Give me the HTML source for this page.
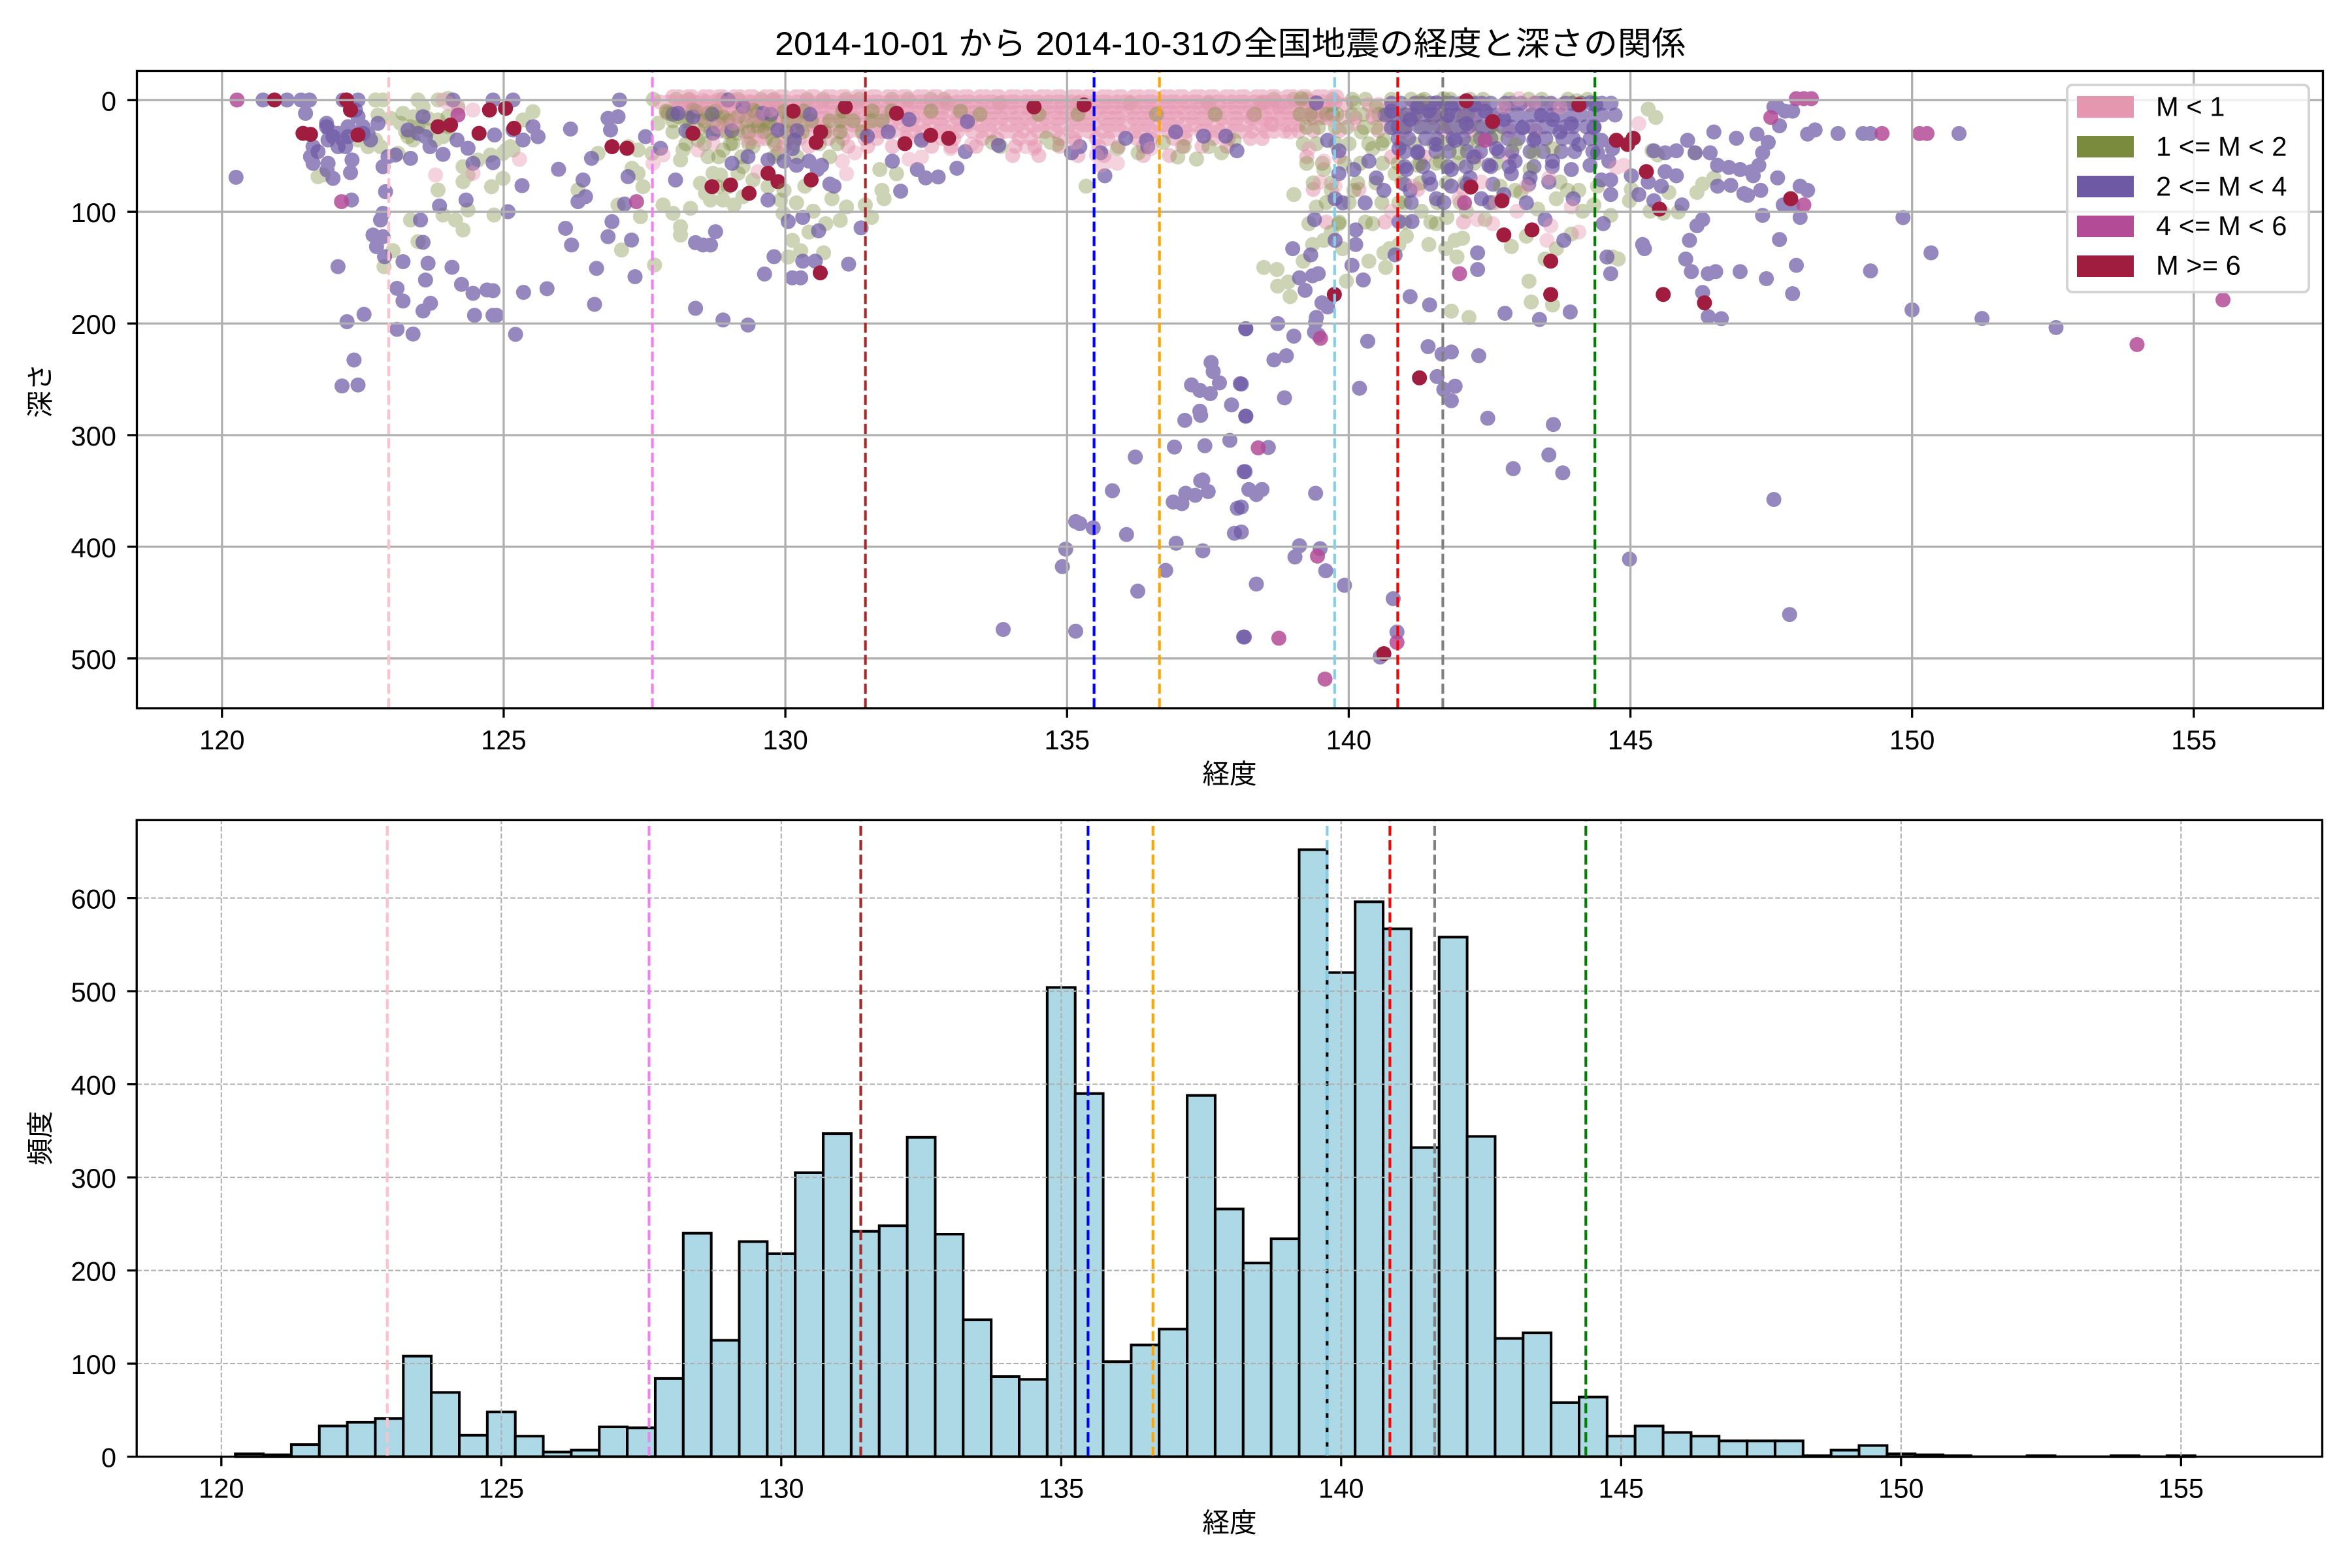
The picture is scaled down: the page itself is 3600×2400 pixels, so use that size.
<!DOCTYPE html>
<html><head><meta charset="utf-8"><style>
html,body{margin:0;padding:0;background:#fff}
svg{display:block}
text{font-family:"Liberation Sans","Noto Sans CJK JP",sans-serif;fill:#000}
.t path{fill:none;stroke-width:23px;stroke-linecap:round;vector-effect:non-scaling-stroke}
.band path{fill:none;stroke-width:23px;stroke-linecap:round}
.pk{stroke:#e597b0;stroke-opacity:.42}
.gr{stroke:#7b8b3d;stroke-opacity:.38}
.pu{stroke:#6e59a5;stroke-opacity:.72}
.mg{stroke:#b44b97;stroke-opacity:.85}
.cr{stroke:#a11d3f;stroke-opacity:1}
.band .pk{stroke-opacity:.55}
.band .gr{stroke-opacity:.4}
.band .pu{stroke-opacity:.68}
</style></head><body>
<svg xmlns="http://www.w3.org/2000/svg" width="3600" height="2400">
<rect x="0" y="0" width="3600" height="2400" fill="#fff"/>
<text x="1186" y="84" font-size="50" textLength="1394" lengthAdjust="spacingAndGlyphs">2014-10-01 から 2014-10-31の全国地震の経度と深さの関係</text>

<g class="band">
<path class="gr" d="M1000 152H1450" stroke-dasharray="0 35 0 20 0 50 0 25"/>
<path class="gr" d="M1950 152H2440" stroke-dasharray="0 30 0 20 0 40"/>
<path class="gr" d="M1450 158H1950" stroke-dasharray="0 80 0 120"/>
<path class="pk" d="M1030 148H2060" stroke-dasharray="0 9 0 14 0 6 0 18"/>
<path class="pk" d="M1010 156H2050" stroke-dasharray="0 12 0 7 0 16"/>
<path class="pk" d="M1040 164H2045" stroke-dasharray="0 10 0 15 0 8 0 20"/>
<path class="pk" d="M1020 172H2040" stroke-dasharray="0 8 0 13 0 11"/>
<path class="pk" d="M1060 181H2020" stroke-dasharray="0 14 0 9 0 22"/>
<path class="pk" d="M1080 191H2000" stroke-dasharray="0 11 0 19 0 9"/>
<path class="pk" d="M1100 201H1990" stroke-dasharray="0 16 0 22 0 12"/>
<path class="pk" d="M1150 212H1960" stroke-dasharray="0 22 0 34 0 18 0 44"/>
<path class="pk" d="M1200 224H1900" stroke-dasharray="0 38 0 60 0 30"/>
<path class="pk" d="M1550 238H1800" stroke-dasharray="0 40 0 60"/>
<path class="pk" d="M2040 160H2440" stroke-dasharray="0 20 0 35 0 15"/>
<path class="pk" d="M2010 180H2300" stroke-dasharray="0 18 0 28"/>
<path class="pk" d="M2010 200H2400" stroke-dasharray="0 40 0 60"/>
<path class="pk" d="M2000 240H2350" stroke-dasharray="0 50 0 80"/>
<path class="pk" d="M2010 290H2300" stroke-dasharray="0 70 0 90"/>
<path class="pk" d="M2030 340H2250" stroke-dasharray="0 90 0 120"/>
<path class="gr" d="M1020 170H1500" stroke-dasharray="0 45 0 30 0 60"/>
<path class="gr" d="M1500 175H2080" stroke-dasharray="0 90 0 60 0 120"/>
<path class="gr" d="M1030 185H1360" stroke-dasharray="0 20 0 28 0 16"/>
<path class="gr" d="M1030 202H1330" stroke-dasharray="0 24 0 34"/>
<path class="gr" d="M1050 220H1320" stroke-dasharray="0 28 0 40"/>
<path class="gr" d="M1100 240H1300" stroke-dasharray="0 35 0 50"/>
<path class="gr" d="M1990 175H2250" stroke-dasharray="0 16 0 24"/>
<path class="gr" d="M2000 195H2300" stroke-dasharray="0 18 0 26"/>
<path class="gr" d="M1995 220H2250" stroke-dasharray="0 20 0 30"/>
<path class="gr" d="M2000 250H2300" stroke-dasharray="0 24 0 34"/>
<path class="gr" d="M2010 280H2250" stroke-dasharray="0 28 0 40"/>
<path class="gr" d="M2030 310H2300" stroke-dasharray="0 35 0 50"/>
<path class="gr" d="M2050 340H2200" stroke-dasharray="0 40 0 60"/>
<path class="pu" d="M2130 158H2470" stroke-dasharray="0 14 0 22 0 10"/>
<path class="pu" d="M2120 176H2480" stroke-dasharray="0 12 0 20"/>
<path class="pu" d="M2140 194H2460" stroke-dasharray="0 12 0 20"/>
<path class="pu" d="M2140 212H2450" stroke-dasharray="0 16 0 26"/>
<path class="pu" d="M2150 232H2440" stroke-dasharray="0 20 0 28"/>
<path class="pu" d="M2150 255H2400" stroke-dasharray="0 28 0 38"/>
<path class="pu" d="M2150 282H2350" stroke-dasharray="0 40 0 55"/>
<path class="pu" d="M2160 310H2320" stroke-dasharray="0 50 0 70"/>
<path class="pu" d="M1030 175H1300" stroke-dasharray="0 60 0 90"/>
<path class="pu" d="M1050 200H1290" stroke-dasharray="0 70 0 100"/>
</g>

<g class="t" transform="translate(150 0) scale(0.76531 0.5102)">
<path class="gr" vector-effect="non-scaling-stroke" d="M572 800h.1M590 752h.1M565 440h.1M600 460h.1M625 380h.1M640 300h.1M650 320h.1M680 300h.1M700 295h.1M720 320h.1M730 500h.1M730 545h.1M740 525h.1M760 480h.1M785 465h.1M810 535h.1M787 560h.1M816 450h.1M830 450h.1M850 360h.1M870 335h.1M680 570h.1M690 645h.1M715 660h.1M730 690h.1M740 630h.1M792 645h.1M625 660h.1M640 725h.1M960 570h.1M1040 615h.1M1047 750h.1M1085 650h.1M1080 520h.1M1068 505h.1M1090 560h.1M1113 795h.1M1108 460h.1M1130 615h.1M1150 640h.1M1165 680h.1M1165 705h.1M1185 625h.1M1165 480h.1M1170 450h.1M1205 550h.1M1215 580h.1M1225 600h.1M1245 525h.1M1272 615h.1M1290 500h.1M1310 540h.1M1340 560h.1M1060 440h.1M1080 450h.1M1120 370h.1M1140 340h.1M1160 350h.1M1180 355h.1M555 300h.1M570 300h.1M560 345h.1M585 355h.1M605 370h.1M615 395h.1M630 420h.1M645 380h.1M700 350h.1M700 380h.1M660 390h.1M555 420h.1M540 440h.1M520 420h.1M440 530h.1M450 525h.1M810 460h.1M825 440h.1M1000 460h.1M1200 420h.1M1220 470h.1M1250 450h.1M1280 400h.1M1320 380h.1M1350 420h.1M1230 520h.1M1260 560h.1M1290 590h.1M1250 600h.1M1365 600h.1M1370 640h.1"/>
<path class="gr" vector-effect="non-scaling-stroke" d="M610 340h.1M630 350h.1M660 355h.1M680 360h.1M690 410h.1M620 410h.1M675 420h.1M1190 330h.1M1220 340h.1M1250 350h.1M1280 350h.1M1310 330h.1M1340 370h.1M1200 390h.1M1270 430h.1M1310 440h.1M1360 460h.1M640 380h.1M700 400h.1M1240 560h.1M1280 520h.1"/>
<path class="pu" vector-effect="non-scaling-stroke" d="M276 532h.1M330 300h.1M378 300h.1M406 300h.1M423 300h.1M415 340h.1M457 370h.1M462 390h.1M460 420h.1M430 440h.1M425 470h.1M430 490h.1M460 490h.1M458 510h.1M470 535h.1M490 420h.1M495 440h.1M500 380h.1M480 400h.1M490 300h.1M520 300h.1M505 320h.1M520 350h.1M530 380h.1M540 400h.1M545 420h.1M507 600h.1M480 800h.1M498 965h.1M532 943h.1M512 1080h.1M488 1158h.1M520 1155h.1M508 480h.1M505 518h.1M570 640h.1M565 660h.1M575 575h.1M570 500h.1M580 470h.1M595 465h.1M625 475h.1M550 705h.1M570 710h.1M557 740h.1M573 770h.1M610 785h.1M660 790h.1M655 840h.1M708 802h.1M727 853h.1M750 880h.1M778 870h.1M790 872h.1M598 865h.1M610 903h.1M650 933h.1M665 910h.1M753 946h.1M790 946h.1M797 946h.1M835 1003h.1M851 877h.1M898 866h.1M630 1002h.1M598 988h.1M820 635h.1M848 557h.1M736 600h.1M683 618h.1M645 660h.1M650 727h.1M690 463h.1M664 440h.1M740 445h.1M750 490h.1M790 488h.1M793 405h.1M830 390h.1M880 410h.1M870 380h.1M935 685h.1M947 735h.1M921 508h.1M945 387h.1M970 540h.1M975 590h.1M960 605h.1M987 475h.1M997 805h.1M993 913h.1M1020 710h.1M1028 665h.1M1053 612h.1M1060 530h.1M1067 720h.1M1074 830h.1M1043 300h.1M1040 350h.1M1020 355h.1M1025 390h.1M1095 410h.1M1125 445h.1M1155 540h.1M1195 728h.1M1210 735h.1M1225 735h.1M1235 695h.1M1195 925h.1M1250 960h.1M1300 975h.1M1268 490h.1M1340 600h.1M1352 770h.1M1333 822h.1M560 370h.1M640 400h.1M655 410h.1M718 420h.1M710 300h.1M650 350h.1M620 390h.1M790 300h.1M830 300h.1M850 420h.1M1160 340h.1M1190 350h.1M1230 400h.1M1260 300h.1M1290 320h.1M1330 340h.1M1360 390h.1M1300 470h.1M1340 480h.1"/>
<path class="pu" vector-effect="non-scaling-stroke" d="M457 380h.1M470 410h.1M440 455h.1M480 440h.1M500 410h.1M515 330h.1M530 400h.1"/>
<path class="pk" vector-effect="non-scaling-stroke" d="M675 525h.1M750 520h.1M843 478h.1M1110 490h.1M1130 465h.1M1185 310h.1M1320 515h.1M1300 420h.1M690 300h.1M720 325h.1M1200 320h.1M1250 310h.1M1300 305h.1M1350 300h.1M1230 430h.1M1180 300h.1M1210 300h.1M1240 300h.1M1270 300h.1M1290 340h.1M1320 350h.1M1345 330h.1M1240 380h.1M1270 370h.1M1320 420h.1M1360 440h.1M1200 450h.1M700 310h.1M750 330h.1"/>
<path class="mg" vector-effect="non-scaling-stroke" d="M278 300h.1M487 605h.1M1077 605h.1M720 345h.1"/>
<path class="cr" vector-effect="non-scaling-stroke" d="M353 300h.1M410 400h.1M425 403h.1M497 300h.1M505 330h.1M520 405h.1M680 380h.1M705 375h.1M762 400h.1M783 330h.1M815 325h.1M832 385h.1M1028 440h.1M1058 445h.1M1190 400h.1M1228 560h.1M1265 555h.1M1302 580h.1M1340 520h.1M1360 545h.1"/>
</g>

<g class="t" transform="translate(1200 100) scale(0.63776)">
<path class="gr" vector-effect="non-scaling-stroke" d="M725 290h.1M945 220h.1M990 225h.1M1050 210h.1M40 445h.1M95 450h.1M115 320h.1M135 372h.1M150 340h.1M235 300h.1M240 320h.1M210 365h.1M195 335h.1M20 420h.1M60 400h.1M30 330h.1M70 350h.1M100 380h.1M520 195h.1M640 185h.1M655 190h.1M500 185h.1M630 175h.1M800 200h.1M850 210h.1M910 185h.1M960 195h.1M1020 195h.1M1080 180h.1M0 300h.1M50 290h.1M10 460h.1M230 250h.1M270 260h.1"/>
<path class="pu" vector-effect="non-scaling-stroke" d="M155 477h.1M40 510h.1M20 510h.1M45 470h.1M75 470h.1M185 390h.1M83 397h.1M10 375h.1M45 365h.1M415 247h.1M370 268h.1M340 270h.1M280 302h.1M320 250h.1M110 285h.1M120 290h.1M20 200h.1M80 250h.1M435 207h.1M515 192h.1M690 210h.1M770 265h.1M760 210h.1M873 195h.1M1007 170h.1M1087 205h.1M0 230h.1M30 240h.1M60 230h.1M90 240h.1M25 180h.1M1025 713h.1M1030 735h.1M1045 762h.1M978 767h.1M998 780h.1M1023 788h.1M1095 764h.1M1074 815h.1M1108 842h.1M962 852h.1M998 830h.1M1000 840h.1M1070 900h.1M937 916h.1M1010 913h.1M843 940h.1M1104 975h.1M1000 997h.1M1005 995h.1M964 1027h.1M987 1032h.1M1018 1023h.1M934 1048h.1M955 1052h.1M1088 1063h.1M788 1021h.1M822 1126h.1M700 1095h.1M710 1100h.1M742 1110h.1M676 1161h.1M668 1203h.1M941 1147h.1M1005 1165h.1M1081 1123h.1M916 1212h.1M849 1262h.1M526 1354h.1M700 1358h.1M1103 1372h.1M1108 632h.1M200 170h.1M250 160h.1M300 130h.1M330 180h.1M260 230h.1M710 195h.1M820 175h.1M870 180h.1M940 160h.1M1060 170h.1M440 135h.1"/>
<path class="pk" vector-effect="non-scaling-stroke" d="M580 195h.1M600 200h.1M760 240h.1M780 230h.1M800 235h.1M750 215h.1M880 200h.1M700 185h.1M450 190h.1M400 200h.1M150 260h.1M140 230h.1M170 210h.1M300 225h.1M330 220h.1"/>
<path class="cr" vector-effect="non-scaling-stroke" d="M87 498h.1M352 168h.1M290 188h.1M147 100h.1M88 160h.1M77 185h.1M22 110h.1M65 275h.1M395 175h.1M270 115h.1M600 100h.1M720 95h.1"/>
</g>

<g class="t" transform="translate(1900 100) scale(0.57398 0.63776)">
<path class="gr" vector-effect="non-scaling-stroke" d="M140 310h.1M60 485h.1M95 490h.1M97 530h.1M130 555h.1M125 520h.1M165 470h.1M190 430h.1M220 420h.1M240 400h.1M270 440h.1M280 518h.1M340 470h.1M380 450h.1M395 440h.1M385 485h.1M420 430h.1M545 440h.1M570 420h.1M590 415h.1M560 590h.1M607 605h.1M767 518h.1M773 568h.1M830 575h.1M720 435h.1M760 410h.1M810 465h.1M840 440h.1M880 405h.1M910 350h.1M940 335h.1M985 360h.1M548 365h.1M575 460h.1M500 430h.1M440 410h.1M745 305h.1M790 345h.1M840 320h.1M870 300h.1M1085 105h.1M1105 125h.1M1095 205h.1M1110 215h.1M1140 305h.1M1210 210h.1M1230 285h.1M1260 270h.1M1215 305h.1M1090 350h.1M1125 355h.1M1165 352h.1M1040 298h.1M1035 325h.1M990 460h.1M1005 465h.1M985 360h.1M895 85h.1M480 85h.1M540 80h.1M160 80h.1M300 90h.1M360 100h.1"/>
<path class="gr" vector-effect="non-scaling-stroke" d="M220 250h.1M240 300h.1M200 340h.1M180 380h.1M260 380h.1M300 300h.1M350 380h.1M420 330h.1M480 350h.1M520 380h.1M600 350h.1M650 370h.1M690 290h.1M730 300h.1M770 250h.1M850 280h.1M900 300h.1M950 290h.1M320 160h.1M350 200h.1M380 180h.1M410 260h.1M470 240h.1M530 230h.1M580 210h.1M630 180h.1M680 170h.1M730 190h.1M780 210h.1M830 200h.1"/>
<path class="pu" vector-effect="non-scaling-stroke" d="M1100 205h.1M1130 210h.1M1160 205h.1M1190 180h.1M1210 210h.1M1250 210h.1M1270 240h.1M1300 245h.1M1330 250h.1M1360 255h.1M1320 175h.1M1375 165h.1M1405 185h.1M1390 210h.1M1380 240h.1M1365 265h.1M1430 270h.1M1435 145h.1M1430 100h.1M1450 110h.1M1470 110h.1M1420 100h.1M1510 165h.1M1530 155h.1M1490 290h.1M1510 300h.1M1470 335h.1M1445 335h.1M1490 365h.1M1390 360h.1M1435 418h.1M1480 480h.1M1470 548h.1M1400 512h.1M1330 495h.1M1265 495h.1M1245 500h.1M1200 495h.1M1185 465h.1M1230 545h.1M1245 603h.1M1280 608h.1M1195 420h.1M1230 370h.1M1215 385h.1M1175 335h.1M1100 325h.1M1270 290h.1M1305 288h.1M1340 308h.1M1350 312h.1M1385 300h.1M1160 265h.1M1120 290h.1M1085 280h.1M1060 310h.1M1040 265h.1M1075 440h.1M1070 430h.1M975 460h.1M985 500h.1M965 380h.1M985 275h.1M985 310h.1M1130 255h.1M1035 1185h.1M1420 1042h.1M1462 1318h.1M1260 160h.1M12 632h.1M97 620h.1M140 650h.1M87 707h.1M120 697h.1M198 617h.1M205 647h.1M337 662h.1M450 555h.1M502 575h.1M703 595h.1M795 610h.1M877 592h.1M498 675h.1M535 693h.1M560 688h.1M633 697h.1M522 747h.1M540 778h.1M570 770h.1M560 805h.1M657 847h.1M832 862h.1M115 798h.1M12 842h.1M315 775h.1M0 765h.1M72 917h.1M10 975h.1M20 1018h.1M55 1018h.1M40 1030h.1M198 1027h.1M725 968h.1M820 935h.1M857 978h.1M155 1153h.1M210 1160h.1M143 1180h.1M225 1213h.1M40 1245h.1M275 1248h.1M405 1280h.1M415 1360h.1M370 1420h.1M8 1372h.1M630 490h.1M630 450h.1M455 375h.1M420 375h.1M410 455h.1M325 515h.1M295 480h.1M170 540h.1M185 455h.1M137 440h.1M155 510h.1M190 505h.1M205 500h.1M215 570h.1M200 605h.1M195 640h.1M230 580h.1M260 205h.1M305 395h.1M305 430h.1M250 320h.1M195 370h.1M885 320h.1M860 420h.1M960 275h.1M0 1120h.1M0 1060h.1"/>
<path class="pu" vector-effect="non-scaling-stroke" d="M400 150h.1M450 130h.1M500 110h.1M550 120h.1M600 140h.1M650 110h.1M700 130h.1M750 150h.1M800 120h.1M850 160h.1M900 190h.1M950 210h.1M980 230h.1M420 200h.1M470 210h.1M520 190h.1M570 180h.1M620 220h.1M680 200h.1M730 230h.1M780 180h.1M830 230h.1M880 250h.1M930 240h.1M440 250h.1M500 270h.1M560 250h.1M610 270h.1M660 240h.1M720 260h.1M770 270h.1M820 280h.1M340 230h.1M360 270h.1M380 300h.1M300 250h.1M330 330h.1M450 300h.1M520 320h.1M560 290h.1M640 320h.1M700 310h.1M760 330h.1M810 370h.1M520 90h.1M620 95h.1M560 100h.1M470 100h.1M400 110h.1M930 90h.1M945 95h.1M880 140h.1M830 130h.1M940 150h.1M960 180h.1M990 200h.1M200 90h.1M230 180h.1M260 260h.1M270 330h.1M250 420h.1"/>
<path class="pk" vector-effect="non-scaling-stroke" d="M630 370h.1M670 380h.1M735 350h.1M815 420h.1M825 385h.1M900 400h.1M880 340h.1M1000 245h.1M1020 240h.1M1060 140h.1M30 120h.1M80 140h.1M130 160h.1M180 200h.1M220 230h.1M210 280h.1M250 290h.1M700 100h.1M740 80h.1M780 90h.1M850 100h.1M820 270h.1M760 290h.1M680 330h.1M640 280h.1M580 320h.1M460 290h.1M400 350h.1M300 140h.1M350 120h.1M240 130h.1M100 100h.1M60 90h.1"/>
<path class="mg" vector-effect="non-scaling-stroke" d="M45 918h.1M100 1375h.1M203 1178h.1M223 1473h.1M415 1385h.1M582 500h.1M595 330h.1M650 180h.1M1480 80h.1M1500 80h.1M1520 80h.1M1412 125h.1M1500 335h.1M211 655h.1"/>
<path class="cr" vector-effect="non-scaling-stroke" d="M1030 190h.1M1045 175h.1M1080 255h.1M1115 345h.1M1125 550h.1M900 95h.1M1000 180h.1M825 470h.1M825 550h.1M700 407h.1M612 292h.1M695 325h.1M775 395h.1M600 85h.1M670 135h.1M475 750h.1M380 1412h.1M248 550h.1M1465 320h.1M1235 570h.1"/>
</g>

<g class="t" transform="translate(2400 60) scale(0.76531 0.5102)">
<path class="pu" vector-effect="non-scaling-stroke" d="M540 283h.1M590 283h.1M605 283h.1M782 283h.1M670 535h.1M726 641h.1M605 695h.1M688 812h.1M828 838h.1M976 865h.1"/>
<path class="mg" vector-effect="non-scaling-stroke" d="M628 283h.1M703 283h.1M718 283h.1M1138 916h.1M1310 782h.1"/>
</g>

<g stroke="#b0b0b0" stroke-width="3.3" fill="none">
<path d="M339.8 108.5V1084M770.95 108.5V1084M1202.1 108.5V1084M1633.25 108.5V1084M2064.4 108.5V1084M2495.55 108.5V1084M2926.7 108.5V1084M3357.85 108.5V1084"/>
<path d="M209.5 153.3H3555.5M209.5 324.2H3555.5M209.5 495.1H3555.5M209.5 666H3555.5M209.5 836.9H3555.5M209.5 1007.8H3555.5"/>
</g>
<g stroke-width="4.17" stroke-dasharray="15.4 6.7" fill="none">
<path stroke="#ffc0cb" d="M595 1084V108.5"/>
<path stroke="#ee82ee" d="M998.6 1084V108.5"/>
<path stroke="#a52a2a" d="M1324.6 1084V108.5"/>
<path stroke="#0000ff" d="M1674.6 1084V108.5"/>
<path stroke="#ffa500" d="M1774.7 1084V108.5"/>
<path stroke="#87ceeb" d="M2042.8 1084V108.5"/>
<path stroke="#ff0000" d="M2139.4 1084V108.5"/>
<path stroke="#808080" d="M2208.4 1084V108.5"/>
<path stroke="#008000" d="M2441.2 1084V108.5"/>
</g>
<rect x="209.5" y="108.5" width="3346" height="975.5" fill="none" stroke="#000" stroke-width="3.3"/>
<g stroke="#000" stroke-width="3.3">
<path d="M339.8 1084v14.6M770.95 1084v14.6M1202.1 1084v14.6M1633.25 1084v14.6M2064.4 1084v14.6M2495.55 1084v14.6M2926.7 1084v14.6M3357.85 1084v14.6"/>
<path d="M209.5 153.3h-14.6M209.5 324.2h-14.6M209.5 495.1h-14.6M209.5 666h-14.6M209.5 836.9h-14.6M209.5 1007.8h-14.6"/>
</g>
<g font-size="41.7" text-anchor="middle">
<text x="339.8" y="1147">120</text><text x="770.95" y="1147">125</text><text x="1202.1" y="1147">130</text><text x="1633.25" y="1147">135</text><text x="2064.4" y="1147">140</text><text x="2495.55" y="1147">145</text><text x="2926.7" y="1147">150</text><text x="3357.85" y="1147">155</text>
</g>
<g font-size="41.7" text-anchor="end">
<text x="178" y="169.3">0</text><text x="178" y="340.2">100</text><text x="178" y="511.1">200</text><text x="178" y="682">300</text><text x="178" y="852.9">400</text><text x="178" y="1023.8">500</text>
</g>
<text x="1882" y="1199" font-size="41.7" text-anchor="middle">経度</text>
<text x="76" y="598" font-size="41.7" text-anchor="middle" transform="rotate(-90 76 598)">深さ</text>

<rect x="3164" y="130" width="370" height="317" rx="8" ry="8" fill="#fff" fill-opacity=".8" stroke="#d4d4d4" stroke-width="4"/>
<rect x="3179" y="147" width="87" height="33.5" fill="#e597b0"/>
<rect x="3179" y="208" width="87" height="33" fill="#7b8b3d"/>
<rect x="3179" y="269" width="87" height="33" fill="#6e59a5"/>
<rect x="3179" y="330" width="87" height="33" fill="#b44b97"/>
<rect x="3179" y="391" width="87" height="33" fill="#a11d3f"/>
<g font-size="41.7">
<text x="3300" y="177.7">M &lt; 1</text>
<text x="3300" y="238.3">1 &lt;= M &lt; 2</text>
<text x="3300" y="299.3">2 &lt;= M &lt; 4</text>
<text x="3300" y="360">4 &lt;= M &lt; 6</text>
<text x="3300" y="420.7">M &gt;= 6</text>
</g>

<g fill="#add8e6" stroke="#000" stroke-width="4">
<rect x="360.2" y="2225.3" width="42.85" height="4.3"/>
<rect x="403.05" y="2226.7" width="42.85" height="2.9"/>
<rect x="445.9" y="2211.1" width="42.85" height="18.5"/>
<rect x="488.75" y="2182.6" width="42.85" height="47"/>
<rect x="531.6" y="2176.9" width="42.85" height="52.7"/>
<rect x="574.45" y="2171.2" width="42.85" height="58.4"/>
<rect x="617.3" y="2075.7" width="42.85" height="153.9"/>
<rect x="660.15" y="2131.3" width="42.85" height="98.3"/>
<rect x="703" y="2196.8" width="42.85" height="32.8"/>
<rect x="745.85" y="2161.2" width="42.85" height="68.4"/>
<rect x="788.7" y="2198.2" width="42.85" height="31.4"/>
<rect x="831.55" y="2222.5" width="42.85" height="7.1"/>
<rect x="874.4" y="2219.6" width="42.85" height="10"/>
<rect x="917.25" y="2184" width="42.85" height="45.6"/>
<rect x="960.1" y="2185.4" width="42.85" height="44.2"/>
<rect x="1002.95" y="2109.9" width="42.85" height="119.7"/>
<rect x="1045.8" y="1887.6" width="42.85" height="342"/>
<rect x="1088.65" y="2051.5" width="42.85" height="178.1"/>
<rect x="1131.5" y="1900.4" width="42.85" height="329.2"/>
<rect x="1174.35" y="1918.9" width="42.85" height="310.7"/>
<rect x="1217.2" y="1795" width="42.85" height="434.6"/>
<rect x="1260.05" y="1735.1" width="42.85" height="494.5"/>
<rect x="1302.9" y="1884.7" width="42.85" height="344.9"/>
<rect x="1345.75" y="1876.2" width="42.85" height="353.4"/>
<rect x="1388.6" y="1740.8" width="42.85" height="488.8"/>
<rect x="1431.45" y="1889" width="42.85" height="340.6"/>
<rect x="1474.3" y="2020.1" width="42.85" height="209.5"/>
<rect x="1517.15" y="2107" width="42.85" height="122.6"/>
<rect x="1560" y="2111.3" width="42.85" height="118.3"/>
<rect x="1602.85" y="1511.4" width="42.85" height="718.2"/>
<rect x="1645.7" y="1673.8" width="42.85" height="555.8"/>
<rect x="1688.55" y="2084.2" width="42.85" height="145.4"/>
<rect x="1731.4" y="2058.6" width="42.85" height="171"/>
<rect x="1774.25" y="2034.4" width="42.85" height="195.2"/>
<rect x="1817.1" y="1676.7" width="42.85" height="552.9"/>
<rect x="1859.95" y="1850.5" width="42.85" height="379.1"/>
<rect x="1902.8" y="1933.2" width="42.85" height="296.4"/>
<rect x="1945.65" y="1896.1" width="42.85" height="333.5"/>
<rect x="1988.5" y="1300.5" width="42.85" height="929.1"/>
<rect x="2031.35" y="1488.6" width="42.85" height="741"/>
<rect x="2074.2" y="1380.3" width="42.85" height="849.3"/>
<rect x="2117.05" y="1421.6" width="42.85" height="808"/>
<rect x="2159.9" y="1756.5" width="42.85" height="473.1"/>
<rect x="2202.75" y="1434.4" width="42.85" height="795.2"/>
<rect x="2245.6" y="1739.4" width="42.85" height="490.2"/>
<rect x="2288.45" y="2048.6" width="42.85" height="181"/>
<rect x="2331.3" y="2040.1" width="42.85" height="189.5"/>
<rect x="2374.15" y="2146.9" width="42.85" height="82.7"/>
<rect x="2417" y="2138.4" width="42.85" height="91.2"/>
<rect x="2459.85" y="2198.2" width="42.85" height="31.4"/>
<rect x="2502.7" y="2182.6" width="42.85" height="47"/>
<rect x="2545.55" y="2192.5" width="42.85" height="37.1"/>
<rect x="2588.4" y="2198.2" width="42.85" height="31.4"/>
<rect x="2631.25" y="2205.4" width="42.85" height="24.2"/>
<rect x="2674.1" y="2205.4" width="42.85" height="24.2"/>
<rect x="2716.95" y="2205.4" width="42.85" height="24.2"/>
<rect x="2759.8" y="2228.2" width="42.85" height="1.4"/>
<rect x="2802.65" y="2219.6" width="42.85" height="10"/>
<rect x="2845.5" y="2212.5" width="42.85" height="17.1"/>
<rect x="2888.35" y="2225.3" width="42.85" height="4.3"/>
<rect x="2931.2" y="2226.7" width="42.85" height="2.9"/>
<rect x="2974.05" y="2228.2" width="42.85" height="1.4"/>
<rect x="3102.6" y="2228.2" width="42.85" height="1.4"/>
<rect x="3231.15" y="2228.2" width="42.85" height="1.4"/>
<rect x="3316.85" y="2228.2" width="42.85" height="1.4"/>
</g>
<path d="M360 2229.6H3360" stroke="#000" stroke-width="4"/>
<g stroke="#b0b0b0" stroke-width="2.1" stroke-dasharray="7.7 3.3" fill="none">
<path d="M338.8 2229.6V1255.3M767.3 2229.6V1255.3M1195.8 2229.6V1255.3M1624.3 2229.6V1255.3M2052.8 2229.6V1255.3M2481.3 2229.6V1255.3M2909.8 2229.6V1255.3M3338.3 2229.6V1255.3"/>
<path d="M209.2 2087.1H3554.5M209.2 1944.6H3554.5M209.2 1802.1H3554.5M209.2 1659.6H3554.5M209.2 1517.1H3554.5M209.2 1374.6H3554.5"/>
</g>
<g stroke-width="4.17" stroke-dasharray="15.4 6.7" fill="none">
<path stroke="#ffc0cb" d="M592.8 2229.6V1255.3"/>
<path stroke="#ee82ee" d="M993.5 2229.6V1255.3"/>
<path stroke="#a52a2a" d="M1317.5 2229.6V1255.3"/>
<path stroke="#0000ff" d="M1665.4 2229.6V1255.3"/>
<path stroke="#ffa500" d="M1764.8 2229.6V1255.3"/>
<path stroke="#87ceeb" d="M2031.35 2229.6V1255.3"/>
<path stroke="#ff0000" d="M2127.4 2229.6V1255.3"/>
<path stroke="#808080" d="M2195.9 2229.6V1255.3"/>
<path stroke="#008000" d="M2427.3 2229.6V1255.3"/>
</g>
<rect x="209.2" y="1255.3" width="3345.3" height="974.3" fill="none" stroke="#000" stroke-width="3.3"/>
<g stroke="#000" stroke-width="3.3">
<path d="M338.8 2229.6v14.6M767.3 2229.6v14.6M1195.8 2229.6v14.6M1624.3 2229.6v14.6M2052.8 2229.6v14.6M2481.3 2229.6v14.6M2909.8 2229.6v14.6M3338.3 2229.6v14.6"/>
<path d="M209.2 2229.6h-14.6M209.2 2087.1h-14.6M209.2 1944.6h-14.6M209.2 1802.1h-14.6M209.2 1659.6h-14.6M209.2 1517.1h-14.6M209.2 1374.6h-14.6"/>
</g>
<g font-size="41.7" text-anchor="middle">
<text x="338.8" y="2292.6">120</text><text x="767.3" y="2292.6">125</text><text x="1195.8" y="2292.6">130</text><text x="1624.3" y="2292.6">135</text><text x="2052.8" y="2292.6">140</text><text x="2481.3" y="2292.6">145</text><text x="2909.8" y="2292.6">150</text><text x="3338.3" y="2292.6">155</text>
</g>
<g font-size="41.7" text-anchor="end">
<text x="178" y="2245.6">0</text><text x="178" y="2103.1">100</text><text x="178" y="1960.6">200</text><text x="178" y="1818.1">300</text><text x="178" y="1675.6">400</text><text x="178" y="1533.1">500</text><text x="178" y="1390.6">600</text>
</g>
<text x="1882" y="2345" font-size="41.7" text-anchor="middle">経度</text>
<text x="76" y="1742" font-size="41.7" text-anchor="middle" transform="rotate(-90 76 1742)">頻度</text>
</svg>
</body></html>
